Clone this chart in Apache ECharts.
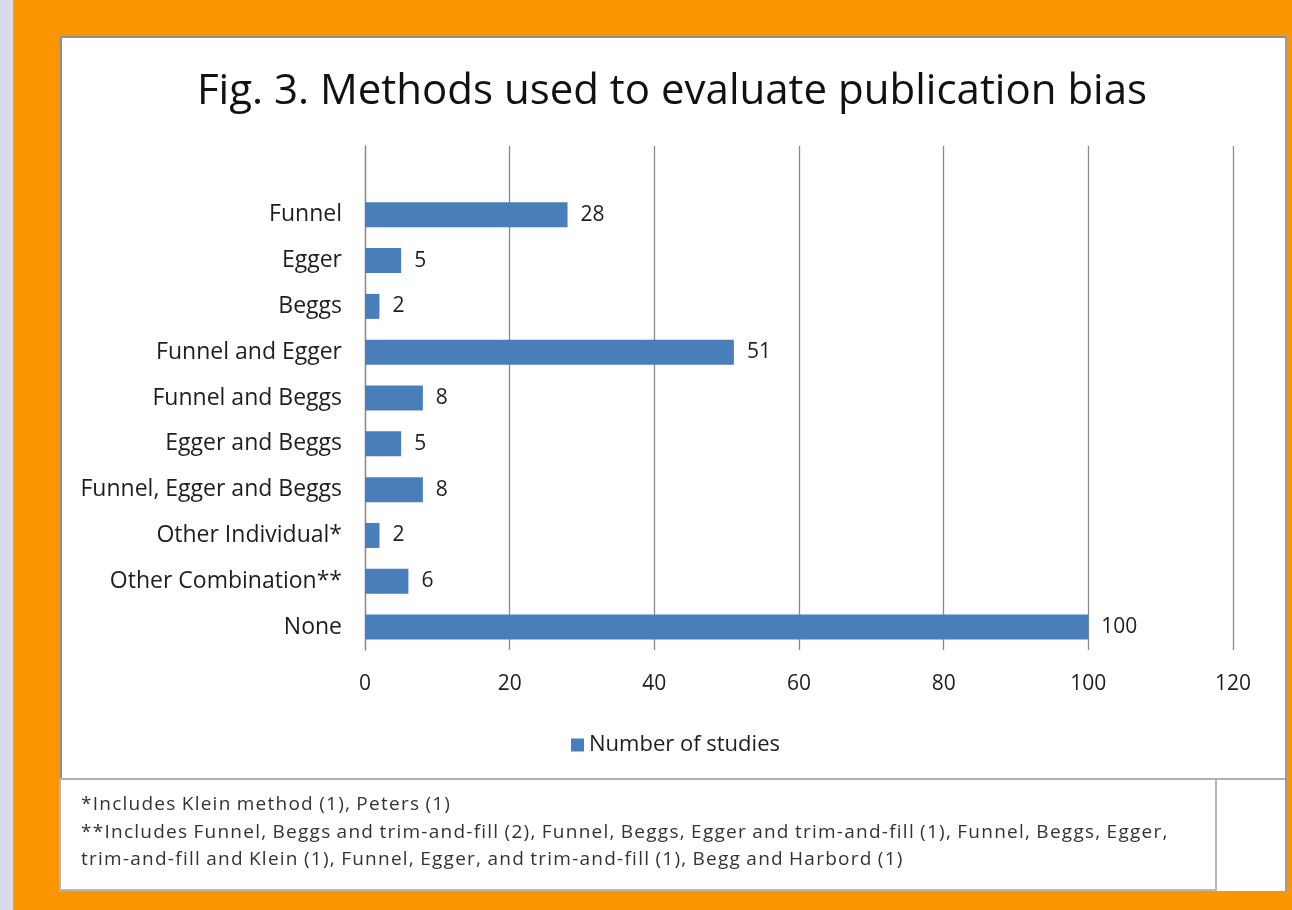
<!DOCTYPE html>
<html>
<head>
<meta charset="utf-8">
<script src="https://cdn.jsdelivr.net/npm/echarts@6/dist/echarts.min.js"></script>
<style>
  html, body { margin: 0; padding: 0; }
  body { width: 1292px; height: 910px; background: #d9dce7; position: relative; overflow: hidden; }
  #frame { position: absolute; left: 13px; top: 0; width: 1279px; height: 910px; background: #fb9601; }
  #panel { position: absolute; left: 60px; top: 36px; width: 1223px; height: 853px; background: #fff;
           border-top: 2px solid #8e8e8e; border-left: 2px solid #8e8e8e; border-right: 2px solid #9a9a9a; }
  #chart { position: absolute; left: 0; top: 0; width: 1292px; height: 910px; }
  #notes { position: absolute; left: 81px; top: 790px; font-family: "Open Sans", "DejaVu Sans", sans-serif;
           font-size: 19px; letter-spacing: 1.25px; word-spacing: -1px; color: #333; line-height: 27.5px; white-space: pre; }
</style>
</head>
<body>
<div id="frame"></div>
<div id="panel"></div>
<div id="chart"></div>
<div id="notes"></div>
<script>
// Categories, top to bottom; the leading blank slot keeps an empty band above the first bar
const categories = ['', 'Funnel', 'Egger', 'Beggs', 'Funnel and Egger', 'Funnel and Beggs',
  'Egger and Beggs', 'Funnel, Egger and Beggs', 'Other Individual*', 'Other Combination**', 'None'];
const studyCounts = [null, 28, 5, 2, 51, 8, 5, 8, 2, 6, 100];
const axisTicks = { min: 0, max: 120, interval: 20 };
const seriesName = 'Number of studies';
const titleText = 'Fig. 3. Methods used to evaluate publication bias';
const footnotes = [
  '*Includes Klein method (1), Peters (1)',
  '**Includes Funnel, Beggs and trim-and-fill (2), Funnel, Beggs, Egger and trim-and-fill (1), Funnel, Beggs, Egger,',
  'trim-and-fill and Klein (1), Funnel, Egger, and trim-and-fill (1), Begg and Harbord (1)'
];

const FONT = '"Open Sans", "DejaVu Sans", sans-serif';
const TEXT = '#1e1e1e';
const BLUE = '#4a7ebb';
const GRID = '#8a8a8a';

document.getElementById('notes').textContent = footnotes.join('\n');

const chart = echarts.init(document.getElementById('chart'), null, { renderer: 'canvas' });

const graphics = [
  // footnote box
  { type: 'rect', shape: { x: 60, y: 779, width: 1156, height: 111 },
    style: { fill: '#ffffff', stroke: '#b8b8b8', lineWidth: 2 }, z: -1 },
  // lower edge of the chart box
  { type: 'line', shape: { x1: 60, y1: 779, x2: 1285, y2: 779 }, style: { stroke: '#b0b0b0', lineWidth: 2 } },
  { type: 'text', x: 672, y: 92,
    style: { text: titleText, font: '42px ' + FONT, fill: '#111', align: 'center', verticalAlign: 'middle' },
    silent: true }
];

chart.setOption({
  animation: false,
  textStyle: { fontFamily: FONT },
  grid: { left: 365, right: 59, top: 146, bottom: 260, containLabel: false },
  legend: {
    data: [seriesName], left: 566, top: 729, itemWidth: 13, itemHeight: 13, itemGap: 6,
    icon: 'rect', textStyle: { fontSize: 22, color: TEXT, fontFamily: FONT }
  },
  xAxis: {
    type: 'value', min: axisTicks.min, max: axisTicks.max, interval: axisTicks.interval,
    axisLine: { show: false }, axisTick: { show: false },
    splitLine: { show: true, lineStyle: { color: GRID, width: 1.3 } },
    axisLabel: { margin: 24, fontSize: 21, color: TEXT, fontFamily: FONT }
  },
  yAxis: {
    type: 'category', data: categories, inverse: true,
    axisLine: { show: true, lineStyle: { color: GRID, width: 1.3 } }, axisTick: { show: false },
    axisLabel: { margin: 23, fontSize: 23, color: TEXT, fontFamily: FONT }
  },
  series: [{
    name: seriesName, type: 'bar', data: studyCounts, barWidth: 25,
    itemStyle: { color: BLUE },
    label: { show: true, position: 'right', distance: 13, fontSize: 21, color: TEXT, fontFamily: FONT }
  }],
  graphic: graphics
});
</script>
</body>
</html>
